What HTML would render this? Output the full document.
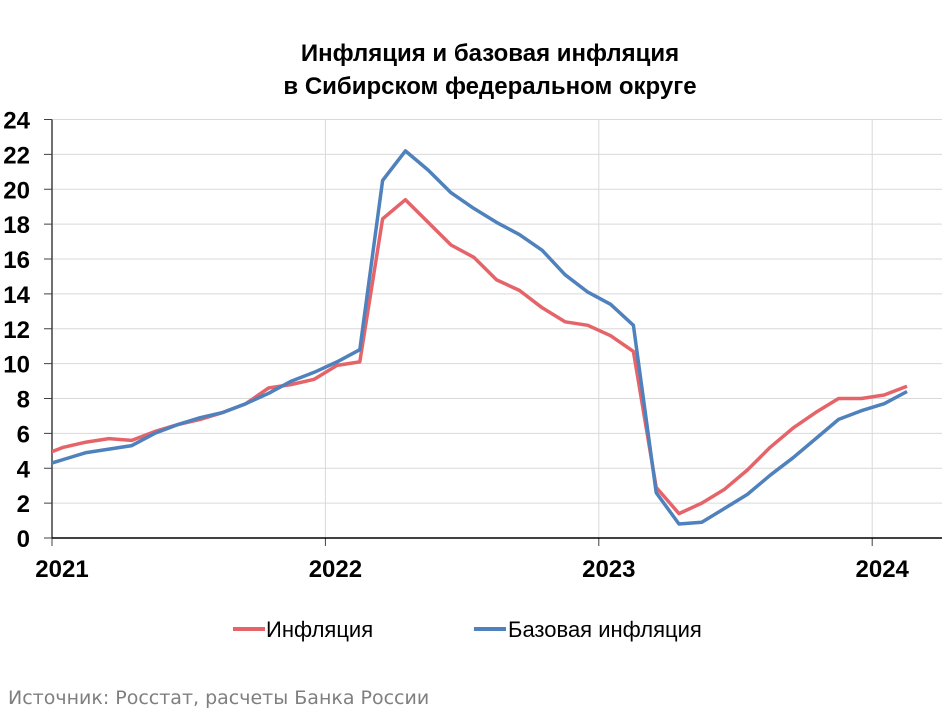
<!DOCTYPE html>
<html><head><meta charset="utf-8"><style>
body{margin:0;background:#fff;width:950px;height:712px;overflow:hidden;font-family:"Liberation Sans",Arial,sans-serif}
</style></head><body>
<svg id="chart" width="950" height="712" xmlns="http://www.w3.org/2000/svg" font-family="Liberation Sans, Arial, sans-serif">
<text x="490" y="61" text-anchor="middle" font-size="24" font-weight="bold">Инфляция и базовая инфляция</text>
<text x="490" y="94" text-anchor="middle" font-size="24" font-weight="bold">в Сибирском федеральном округе</text>
<defs><clipPath id="plotclip"><rect x="52" y="100" width="890" height="450"/></clipPath></defs>
<g id="grid"></g><g id="axes"></g><g id="series" clip-path="url(#plotclip)"></g>
<g>
<line x1="233" y1="629" x2="265" y2="629" stroke="#e5646a" stroke-width="4"/>
<text x="266" y="637" font-size="22">Инфляция</text>
<line x1="474" y1="629" x2="506" y2="629" stroke="#4f81bd" stroke-width="4"/>
<text x="508" y="637" font-size="22">Базовая инфляция</text>
</g>
<text x="8" y="704" font-size="19" fill="#7f7f7f" font-family="DejaVu Sans, sans-serif">Источник: Росстат, расчеты Банка России</text>
</svg>
<script>
const yTicks=[0,2,4,6,8,10,12,14,16,18,20,22,24];
const yearLabels=["2021","2022","2023","2024"];
const inflation=[4.7,5.2,5.5,5.7,5.6,6.1,6.5,6.8,7.2,7.7,8.6,8.8,9.1,9.9,10.1,18.3,19.4,18.1,16.8,16.1,14.8,14.2,13.2,12.4,12.2,11.6,10.7,2.9,1.4,2.0,2.8,3.9,5.2,6.3,7.2,8.0,8.0,8.2,8.7];
const coreInflation=[4.1,4.5,4.9,5.1,5.3,6.0,6.5,6.9,7.2,7.7,8.3,9.0,9.5,10.1,10.8,20.5,22.2,21.1,19.8,18.9,18.1,17.4,16.5,15.1,14.1,13.4,12.2,2.6,0.8,0.9,1.7,2.5,3.6,4.6,5.7,6.8,7.3,7.7,8.4];
const NS="http://www.w3.org/2000/svg";
const x0=52,x1=942,yTop=119.5,yBot=538,monthW=22.8,yearW=273.4,yMax=24;
function yScale(v){return yBot-(v/yMax)*(yBot-yTop);}
function xScale(i){return x0+monthW*(i-0.5);}
function mk(tag,attrs,parent){const e=document.createElementNS(NS,tag);for(const k in attrs)e.setAttribute(k,attrs[k]);parent.appendChild(e);return e;}
const grid=document.getElementById('grid'),axes=document.getElementById('axes'),series=document.getElementById('series');
yTicks.forEach(t=>{
  const y=yScale(t);
  if(t>0){const g=mk('line',{x1:x0,x2:x1,y1:y,y2:y,stroke:'#d9d9d9','stroke-width':1},grid);
  
  }
  const tk=mk('line',{x1:x0-8,x2:x0,y1:y,y2:y,stroke:'#404040','stroke-width':1},axes);
  
  
  const lb=mk('text',{x:30,y:y+9,'text-anchor':'end','font-size':24,'font-weight':'bold'},axes);
  lb.textContent=t;
  
  
});
yearLabels.forEach((yr,k)=>{
  const x=x0+yearW*k;
  if(k>0){const g=mk('line',{x1:x,x2:x,y1:yTop,y2:yBot,stroke:'#d9d9d9','stroke-width':1},grid);
  
  }
  const tk=mk('line',{x1:x,x2:x,y1:yBot,y2:yBot+8,stroke:'#404040','stroke-width':1},axes);
  
  
  const lb=mk('text',{x:x+10,y:577,'text-anchor':'middle','font-size':24,'font-weight':'bold'},axes);
  lb.textContent=yr;
  
  
});
const ya=mk('line',{x1:x0,x2:x0,y1:yTop,y2:yBot,stroke:'#404040','stroke-width':1.5},axes);


const xa=mk('line',{x1:x0,x2:x1,y1:yBot,y2:yBot,stroke:'#000','stroke-width':1.5},axes);


function drawLine(vals,color,name){
  const pts=vals.map((v,i)=>xScale(i).toFixed(1)+','+yScale(v).toFixed(1)).join(' ');
  const p=mk('polyline',{points:pts,fill:'none',stroke:color,'stroke-width':3.5,'stroke-linejoin':'round'},series);
  
  
}
drawLine(inflation,'#e5646a','line-inflation');
drawLine(coreInflation,'#4f81bd','line-core-inflation');
</script>
</body></html>
